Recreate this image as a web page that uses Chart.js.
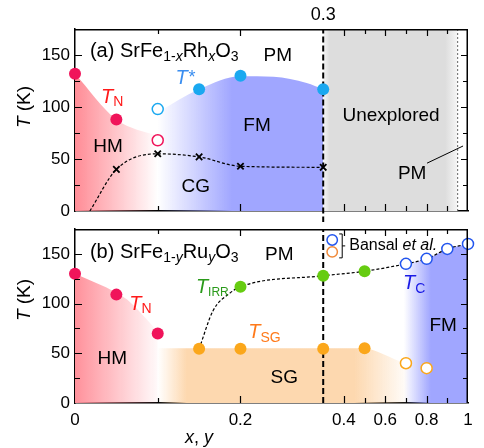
<!DOCTYPE html>
<html><head><meta charset="utf-8">
<script src="https://cdn.jsdelivr.net/npm/chart.js@4/dist/chart.umd.min.js"></script>
<style>
html,body{margin:0;padding:0;background:#fff;width:484px;height:448px;overflow:hidden;}
canvas{position:absolute;left:0;}
#c1{top:0;}
#c2{top:222px;}
</style></head><body>
<canvas id="c1" width="484" height="222"></canvas>
<canvas id="c2" width="484" height="226"></canvas>
<script>
// ---------- axis ticks ----------
const xTickValues = [0, 0.1, 0.2, 0.3, 0.4, 0.5, 0.6, 0.7, 0.8, 0.9, 1.0];
const xTickLabels = ['0', '', '0.2', '', '0.4', '', '0.6', '', '0.8', '', '1'];
const xMajorTicks = [0, 0.2, 0.4, 0.6, 0.8, 1.0];
const yTickValues = [0, 25, 50, 75, 100, 125, 150, 175];
const yTickLabels = ['0', '', '50', '', '100', '', '150', ''];

// ---------- (a) SrFe1-xRhxO3 ----------
const rhTN_x = [0, 0.05];            const rhTN_T = [132, 88];
const rhTNopen_x = [0.1];            const rhTNopen_T = [68];
const rhTstar_x = [0.15, 0.2, 0.3];  const rhTstar_T = [117, 130, 117];
const rhTstarOpen_x = [0.1];         const rhTstarOpen_T = [98];
const rhCG_x = [0.05, 0.1, 0.15, 0.2, 0.3];  const rhCG_T = [40, 55, 52, 43, 42];
const rhCGcurve_x = [0.018, 0.05, 0.1, 0.15, 0.2, 0.3];  const rhCGcurve_T = [0, 40, 55, 52, 43, 42];
const rhHMedge_x = [0, 0.05, 0.1];   const rhHMedge_T = [132, 88, 72];
const rhFMedge_x = [0.1, 0.15, 0.2, 0.24, 0.28, 0.3];  const rhFMedge_T = [95, 117, 129.5, 129, 123, 117];
const rhUnexplored_x = [0.3, 0.95];  const rhUnexplored_T = [175, 175];

// ---------- (b) SrFe1-yRuyO3 ----------
const ruTN_x = [0, 0.05, 0.1];              const ruTN_T = [130, 109, 70];
const ruTSG_x = [0.15, 0.2, 0.3, 0.5];      const ruTSG_T = [54.5, 54.5, 54.5, 55];
const ruTSGbansal_x = [0.7, 0.8];           const ruTSGbansal_T = [40, 35];
const ruTIRR_x = [0.2, 0.3, 0.5];           const ruTIRR_T = [117, 128, 132.5];
const ruTCbansal_x = [0.7, 0.8, 0.9, 1.0];  const ruTCbansal_T = [140, 145, 155, 160];
const ruCurve_x = [0.15, 0.167, 0.188, 0.2, 0.3, 0.5, 0.7, 0.8, 0.9, 1.0];
const ruCurve_T = [54.5, 93, 111, 117, 128, 132.5, 140, 145, 155, 160];
const ruHMedge_x = [0, 0.05, 0.063, 0.1];   const ruHMedge_T = [130, 111, 104, 72];
const ruSGedge_x = [0.1, 0.5, 0.58, 0.67, 0.8];  const ruSGedge_T = [55, 55, 50, 42, 36];
const ruFMedge_x = [0.68, 0.7, 0.8, 0.9, 1.0];   const ruFMedge_T = [139, 140, 145, 155, 160];

const dividerX = 0.3;
const pmLimitX = 0.95;

// broken axis: 0..0.3 full scale, 0.3..1 compressed
const BREAK = 0.3, COMPRESS = 0.25;
function u(x) { return x <= BREAK ? x : BREAK + (x - BREAK) * COMPRESS; }
function pts(xs, ts) { return xs.map((x, i) => ({ x: u(x), y: ts[i] })); }

const FONT = '"Liberation Sans", Arial, Helvetica, sans-serif';
function fontOf(p) { return (p.i ? 'italic ' : '') + (p.s || 16) + 'px ' + FONT; }
function drawRich(ctx, x, y, parts, align, color) {
  let w = 0;
  parts.forEach(p => { ctx.font = fontOf(p); p._w = ctx.measureText(p.t).width; w += p._w; });
  let cx = align === 'left' ? x : x - w / 2;
  ctx.textBaseline = 'middle'; ctx.textAlign = 'left';
  parts.forEach(p => {
    ctx.font = fontOf(p); ctx.fillStyle = p.c || color || '#000';
    ctx.fillText(p.t, cx, y + (p.dy || 0)); cx += p._w;
  });
}

function grad(chart, stops) {
  const a = chart.chartArea;
  if (!a) return 'rgba(0,0,0,0)';
  const xs = chart.scales.x;
  const p = stops.map(s => xs.getPixelForValue(u(s[0])));
  const g = chart.ctx.createLinearGradient(p[0], 0, p[p.length - 1], 0);
  stops.forEach((s, i) => g.addColorStop((p[i] - p[0]) / (p[p.length - 1] - p[0]), s[1]));
  return g;
}

const RED = '#f0145a', BLUE_PT = '#1aa8f0', GREEN = '#66cc11', ORANGE = '#fba71b';
const BLUE_RGB = '160,166,255';

function filled(data, color, order) {
  return { data, showLine: false, pointRadius: 6, pointBackgroundColor: color, pointBorderColor: color, pointBorderWidth: 0, clip: false, order };
}
function open(data, color, order) {
  return { data, showLine: false, pointRadius: 5.5, pointBackgroundColor: '#fff', pointBorderColor: color, pointBorderWidth: 1.5, clip: false, order };
}
function area(data, bg, order) {
  return { data, borderWidth: 0, pointRadius: 0, fill: 'origin', backgroundColor: bg, cubicInterpolationMode: 'monotone', order };
}
function dashed(data, order, width, dash, color, clip, mono) {
  return { data, borderColor: color || '#000', borderWidth: width, borderDash: dash, pointRadius: 0, fill: false,
    cubicInterpolationMode: mono ? 'monotone' : 'default', tension: 0, clip: clip, order };
}

function scalesFor(showXLabels, xHeight) {
  return {
    x: {
      type: 'linear', min: 0, max: u(1),
      afterBuildTicks: s => { s.ticks = xTickValues.map(v => ({ value: u(v) })); },
      afterFit: s => { s.height = xHeight; s.paddingLeft = 0; s.paddingRight = 0; },
      ticks: { display: showXLabels, autoSkip: false, maxRotation: 0, padding: 7, color: '#000',
        font: { family: FONT, size: 17 }, callback: (v, i) => xTickLabels[i] },
      grid: { drawOnChartArea: false, drawTicks: false },
      border: { display: true, color: '#000', width: 1.5 }
    },
    y: {
      type: 'linear', min: 0, max: 175,
      afterBuildTicks: s => { s.ticks = yTickValues.map(v => ({ value: v })); },
      afterFit: s => { s.width = 75; s.paddingTop = 0; s.paddingBottom = 0; },
      ticks: { padding: 5, color: '#000', font: { family: FONT, size: 17 }, callback: (v, i) => yTickLabels[i] },
      grid: { drawOnChartArea: false, drawTicks: false },
      border: { display: true, color: '#000', width: 1.5 }
    }
  };
}

function drawFrameAndTicks(chart) {
  const { ctx, chartArea: a, scales: { x, y } } = chart;
  ctx.save();
  ctx.strokeStyle = '#000'; ctx.lineWidth = 1.5; ctx.setLineDash([]);
  ctx.beginPath();
  ctx.moveTo(a.left, a.top + 0.75); ctx.lineTo(a.right - 0.75, a.top + 0.75); ctx.lineTo(a.right - 0.75, a.bottom);
  ctx.stroke();
  ctx.lineWidth = 1.2;
  ctx.beginPath();
  xTickValues.forEach(v => {
    if (v === 0 || v === 1 || v === dividerX) return;
    const px = Math.round(x.getPixelForValue(u(v))) + 0.5;
    const len = xMajorTicks.includes(v) ? 7 : 5;
    ctx.moveTo(px, a.bottom); ctx.lineTo(px, a.bottom - len);
    ctx.moveTo(px, a.top); ctx.lineTo(px, a.top + len);
  });
  yTickValues.forEach(v => {
    if (v === 0 || v === 175) return;
    const py = Math.round(y.getPixelForValue(v)) + 0.5;
    const len = v % 50 === 0 ? 7 : 5;
    ctx.moveTo(a.left, py); ctx.lineTo(a.left + len, py);
    ctx.moveTo(a.right, py); ctx.lineTo(a.right - len, py);
  });
  ctx.stroke();
  ctx.restore();
}

function drawYTitle(ctx, cx, cy) {
  ctx.save();
  ctx.translate(cx, cy); ctx.rotate(-Math.PI / 2);
  drawRich(ctx, 0, 0, [{ t: 'T', s: 19, i: 1 }, { t: ' (K)', s: 19 }], 'center', '#000');
  ctx.restore();
}

function drawLabels(chart, labels) {
  const { ctx, scales: { x, y } } = chart;
  labels.forEach(l => drawRich(ctx, x.getPixelForValue(u(l.x)), y.getPixelForValue(l.y), l.parts, l.align, l.color));
}

const sub = (t, s) => ({ t, s: s || 14, dy: 5 });
const topLabels = [
  { x: 0.018, y: 153, align: 'left', color: '#000', parts: [{ t: '(a) SrFe', s: 20 }, { t: '1-', s: 14, dy: 5 }, { t: 'x', s: 14, i: 1, dy: 5 }, { t: 'Rh', s: 20 }, { t: 'x', s: 14, i: 1, dy: 5 }, { t: 'O', s: 20 }, { t: '3', s: 14, dy: 5 }] },
  { x: 0.045, y: 109, color: '#ff1a1a', parts: [{ t: 'T', s: 20, i: 1 }, sub('N')] },
  { x: 0.133, y: 127, color: '#3a8ef0', parts: [{ t: 'T', s: 20, i: 1 }, { t: '*', s: 18, i: 1, dy: -1 }] },
  { x: 0.04, y: 61.5, color: '#000', parts: [{ t: 'HM', s: 19 }] },
  { x: 0.22, y: 82, color: '#000', parts: [{ t: 'FM', s: 19 }] },
  { x: 0.146, y: 23, color: '#000', parts: [{ t: 'CG', s: 19 }] },
  { x: 0.245, y: 149, color: '#000', parts: [{ t: 'PM', s: 19 }] },
  { x: 0.628, y: 92, color: '#000', parts: [{ t: 'Unexplored', s: 19 }] },
  { x: 0.73, y: 35.5, color: '#000', parts: [{ t: 'PM', s: 19 }] }
];
const botLabels = [
  { x: 0.018, y: 151, align: 'left', color: '#000', parts: [{ t: '(b) SrFe', s: 20 }, { t: '1-', s: 14, dy: 5 }, { t: 'y', s: 14, i: 1, dy: 5 }, { t: 'Ru', s: 20 }, { t: 'y', s: 14, i: 1, dy: 5 }, { t: 'O', s: 20 }, { t: '3', s: 14, dy: 5 }] },
  { x: 0.079, y: 99.5, color: '#ff1a1a', parts: [{ t: 'T', s: 20, i: 1 }, sub('N')] },
  { x: 0.166, y: 116, color: '#2a9a1a', parts: [{ t: 'T', s: 20, i: 1 }, sub('IRR', 12)] },
  { x: 0.045, y: 44.5, color: '#000', parts: [{ t: 'HM', s: 19 }] },
  { x: 0.247, y: 149, color: '#000', parts: [{ t: 'PM', s: 19 }] },
  { x: 0.229, y: 70.5, color: '#ff7a1a', parts: [{ t: 'T', s: 20, i: 1 }, sub('SG')] },
  { x: 0.253, y: 25, color: '#000', parts: [{ t: 'SG', s: 19 }] },
  { x: 0.74, y: 120, color: '#1a1ae6', parts: [{ t: 'T', s: 20, i: 1 }, sub('C')] },
  { x: 0.88, y: 78, color: '#000', parts: [{ t: 'FM', s: 19 }] }
];

const baseOptions = {
  responsive: false, animation: false, events: [],
  plugins: { legend: { display: false }, tooltip: { enabled: false } }
};

// ---------- top chart ----------
new Chart(document.getElementById('c1'), {
  type: 'line',
  data: { datasets: [
    area(pts(rhUnexplored_x, rhUnexplored_T), c => grad(c.chart, [[0.3, 'rgb(246,246,246)'], [0.33, 'rgb(221,221,221)'], [0.89, 'rgb(221,221,221)'], [0.95, 'rgb(246,246,246)']]), 20),
    area(pts(rhHMedge_x, rhHMedge_T), c => grad(c.chart, [[0, 'rgba(255,140,150,1)'], [0.1, 'rgba(255,140,150,0)']]), 19),
    area(pts(rhFMedge_x, rhFMedge_T), c => grad(c.chart, [[0.1, 'rgba(' + BLUE_RGB + ',0)'], [0.19, 'rgba(' + BLUE_RGB + ',1)'], [0.3, 'rgba(' + BLUE_RGB + ',1)']]), 18),
    dashed(pts([pmLimitX, pmLimitX], [0, 175]), 17, 1, [2, 2], '#666', 0, false),
    dashed(pts([dividerX, dividerX], [-11, 175]), 16, 2, [6, 3], '#000', false, false),
    dashed(pts(rhCGcurve_x, rhCGcurve_T), 15, 1.2, [3, 2], '#000', 0, true),
    { data: pts(rhCG_x, rhCG_T), showLine: false, pointStyle: 'crossRot', pointRadius: 4.5, pointBorderColor: '#000', pointBorderWidth: 1.8, clip: false, order: 5 },
    filled(pts(rhTN_x, rhTN_T), RED, 3),
    open(pts(rhTNopen_x, rhTNopen_T), RED, 3),
    filled(pts(rhTstar_x, rhTstar_T), BLUE_PT, 2),
    open(pts(rhTstarOpen_x, rhTstarOpen_T), BLUE_PT, 2)
  ] },
  options: Object.assign({}, baseOptions, {
    layout: { padding: { top: 29, right: 16, left: 0, bottom: 0 } },
    scales: scalesFor(false, 11)
  }),
  plugins: [{
    id: 'decorTop',
    afterDraw(chart) {
      const { ctx, scales: { x, y } } = chart;
      drawFrameAndTicks(chart);
      drawLabels(chart, topLabels);
      ctx.save(); ctx.strokeStyle = '#000'; ctx.lineWidth = 1; ctx.setLineDash([]);
      ctx.beginPath();
      ctx.moveTo(x.getPixelForValue(u(0.802)), y.getPixelForValue(46));
      ctx.lineTo(x.getPixelForValue(u(0.976)), y.getPixelForValue(62.5));
      ctx.stroke(); ctx.restore();
      drawRich(ctx, x.getPixelForValue(u(dividerX)), 15, [{ t: '0.3', s: 18 }], 'center', '#000');
      drawYTitle(ctx, 25, 107);
    }
  }]
});

// ---------- bottom chart ----------
new Chart(document.getElementById('c2'), {
  type: 'line',
  data: { datasets: [
    area(pts(ruHMedge_x, ruHMedge_T), c => grad(c.chart, [[0, 'rgba(255,145,155,1)'], [0.105, 'rgba(255,145,155,0)']]), 20),
    area(pts(ruSGedge_x, ruSGedge_T), c => grad(c.chart, [[0.1, 'rgba(253,216,175,0)'], [0.135, 'rgba(253,216,175,1)'], [0.45, 'rgba(253,216,175,1)'], [0.72, 'rgba(253,216,175,0)']]), 19),
    area(pts(ruFMedge_x, ruFMedge_T), c => grad(c.chart, [[0.69, 'rgba(' + BLUE_RGB + ',0)'], [0.82, 'rgba(' + BLUE_RGB + ',1)'], [1.0, 'rgba(' + BLUE_RGB + ',1)']]), 18),
    dashed(pts([dividerX, dividerX], [0, 175]), 16, 2, [6, 3], '#000', false, false),
    dashed(pts(ruCurve_x, ruCurve_T), 15, 1.2, [3, 2], '#000', 0, true),
    filled(pts(ruTN_x, ruTN_T), RED, 3),
    filled(pts(ruTSG_x, ruTSG_T), ORANGE, 3),
    open(pts(ruTSGbansal_x, ruTSGbansal_T), ORANGE, 3),
    filled(pts(ruTIRR_x, ruTIRR_T), GREEN, 2),
    open(pts(ruTCbansal_x, ruTCbansal_T), '#2255ee', 2)
  ] },
  options: Object.assign({}, baseOptions, {
    layout: { padding: { top: 0, right: 16, left: 0, bottom: 0 } },
    scales: scalesFor(true, 45)
  }),
  plugins: [{
    id: 'decorBottom',
    afterDraw(chart) {
      const { ctx, chartArea: a, scales: { x, y } } = chart;
      drawFrameAndTicks(chart);
      drawLabels(chart, botLabels);
      const lx = x.getPixelForValue(u(dividerX)) + 9;
      const ly1 = y.getPixelForValue(164), ly2 = y.getPixelForValue(152);
      ctx.save(); ctx.setLineDash([]); ctx.lineWidth = 1.5; ctx.fillStyle = '#fff';
      [[ly1, '#2255ee'], [ly2, '#f08a3a']].forEach(([py, c]) => {
        ctx.strokeStyle = c; ctx.beginPath(); ctx.arc(lx, py, 5.2, 0, Math.PI * 2); ctx.fill(); ctx.stroke();
      });
      const bx = lx + 10, bt = ly1 - 6, bb = ly2 + 6, bm = (bt + bb) / 2;
      ctx.strokeStyle = '#000'; ctx.lineWidth = 1;
      ctx.beginPath();
      ctx.moveTo(bx - 3, bt); ctx.lineTo(bx, bt); ctx.lineTo(bx, bb); ctx.lineTo(bx - 3, bb);
      ctx.moveTo(bx, bm); ctx.lineTo(bx + 3, bm);
      ctx.stroke(); ctx.restore();
      drawRich(ctx, bx + 7, bm, [{ t: 'Bansal ', s: 16 }, { t: 'et al.', s: 16, i: 1 }], 'left', '#000');
      const tx = (x.getPixelForValue(u(0)) + x.getPixelForValue(u(dividerX))) / 2;
      drawRich(ctx, tx, a.bottom + 35, [{ t: 'x', s: 18, i: 1 }, { t: ', ', s: 18 }, { t: 'y', s: 18, i: 1 }], 'center', '#000');
      drawYTitle(ctx, 25, 78);
    }
  }]
});
</script>
</body></html>
